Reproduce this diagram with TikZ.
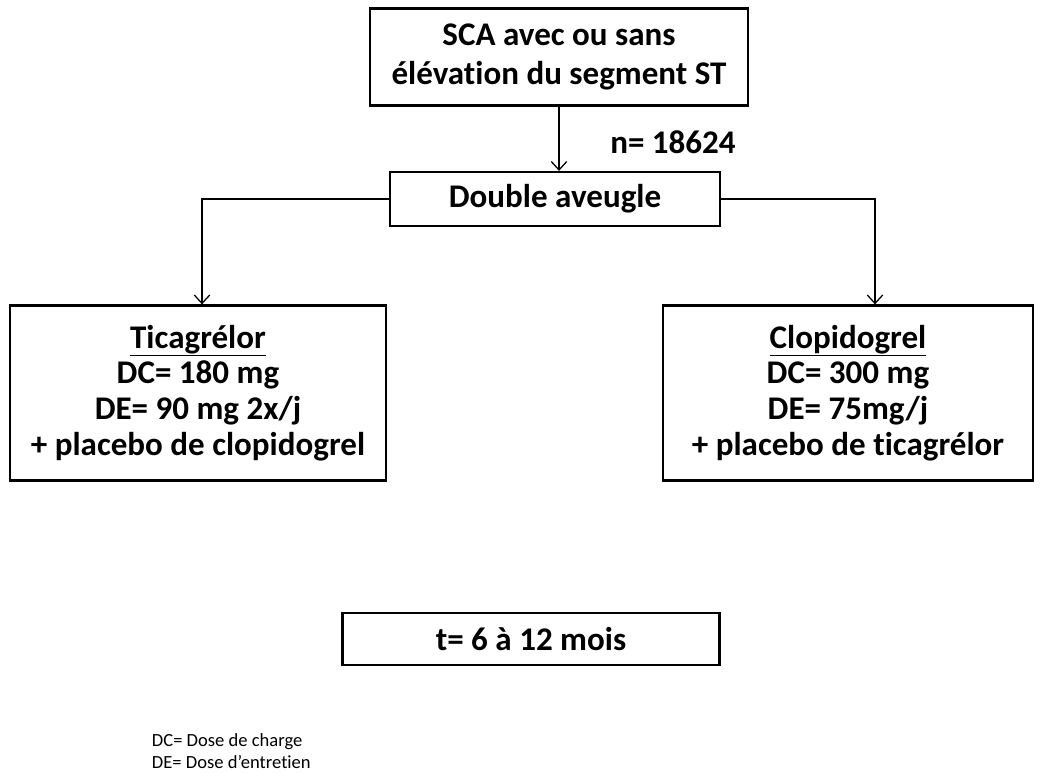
\documentclass[tikz,border=0pt]{standalone}
\usepackage{fontspec}
\setmainfont[Ligatures=NoCommon]{Carlito}
\usepackage{tikz}
\usetikzlibrary{arrows.meta}

\begin{document}
\begin{tikzpicture}[x=0.025cm,y=-0.025cm,>={Straight Barb[length=6pt,width=11pt]}]
\tikzset{
  boite/.style={draw,line width=1.6pt,align=center,inner sep=0pt,
    font=\fontsize{23.5}{25.5}\selectfont\bfseries},
  fleche/.style={->,line width=0.9pt}
}
\useasboundingbox (0,0) rectangle (1040,772);
% boites
\node[boite,minimum width=9.45cm,minimum height=2.425cm] (sca) at (559,57)
  {SCA avec ou sans\\[2pt]élévation du segment ST};
\node[boite,minimum width=8.25cm,minimum height=1.35cm] (dbl) at (555,199) {Double aveugle};
\node[boite,minimum width=9.4cm,minimum height=4.375cm] (tica) at (198,393)
  {\underline{Ticagrélor}\\DC= 180 mg\\DE= 90 mg 2x/j\\+ placebo de clopidogrel};
\node[boite,minimum width=9.25cm,minimum height=4.375cm] (clopi) at (848,393)
  {\underline{Clopidogrel}\\DC= 300 mg\\DE= 75mg/j\\+ placebo de ticagrélor};
\node[boite,minimum width=9.425cm,minimum height=1.3cm] (duree) at (531,639) {t= 6 à 12 mois};
% textes
\node[font=\fontsize{23.5}{25.5}\selectfont\bfseries] (n) at (673,142) {n= 18624};
\node[font=\fontsize{13.2}{15.6}\selectfont,align=left,anchor=north west] (legende) at (147,729)
  {DC= Dose de charge\\DE= Dose d’entretien};
% fleches
\draw[fleche] (sca.south) -- (sca.south |- dbl.north);
\draw[fleche] (dbl.west) -| ([xshift=0.1cm]tica.north);
\draw[fleche] (dbl.east) -| ([xshift=0.675cm]clopi.north);
\end{tikzpicture}
\end{document}
